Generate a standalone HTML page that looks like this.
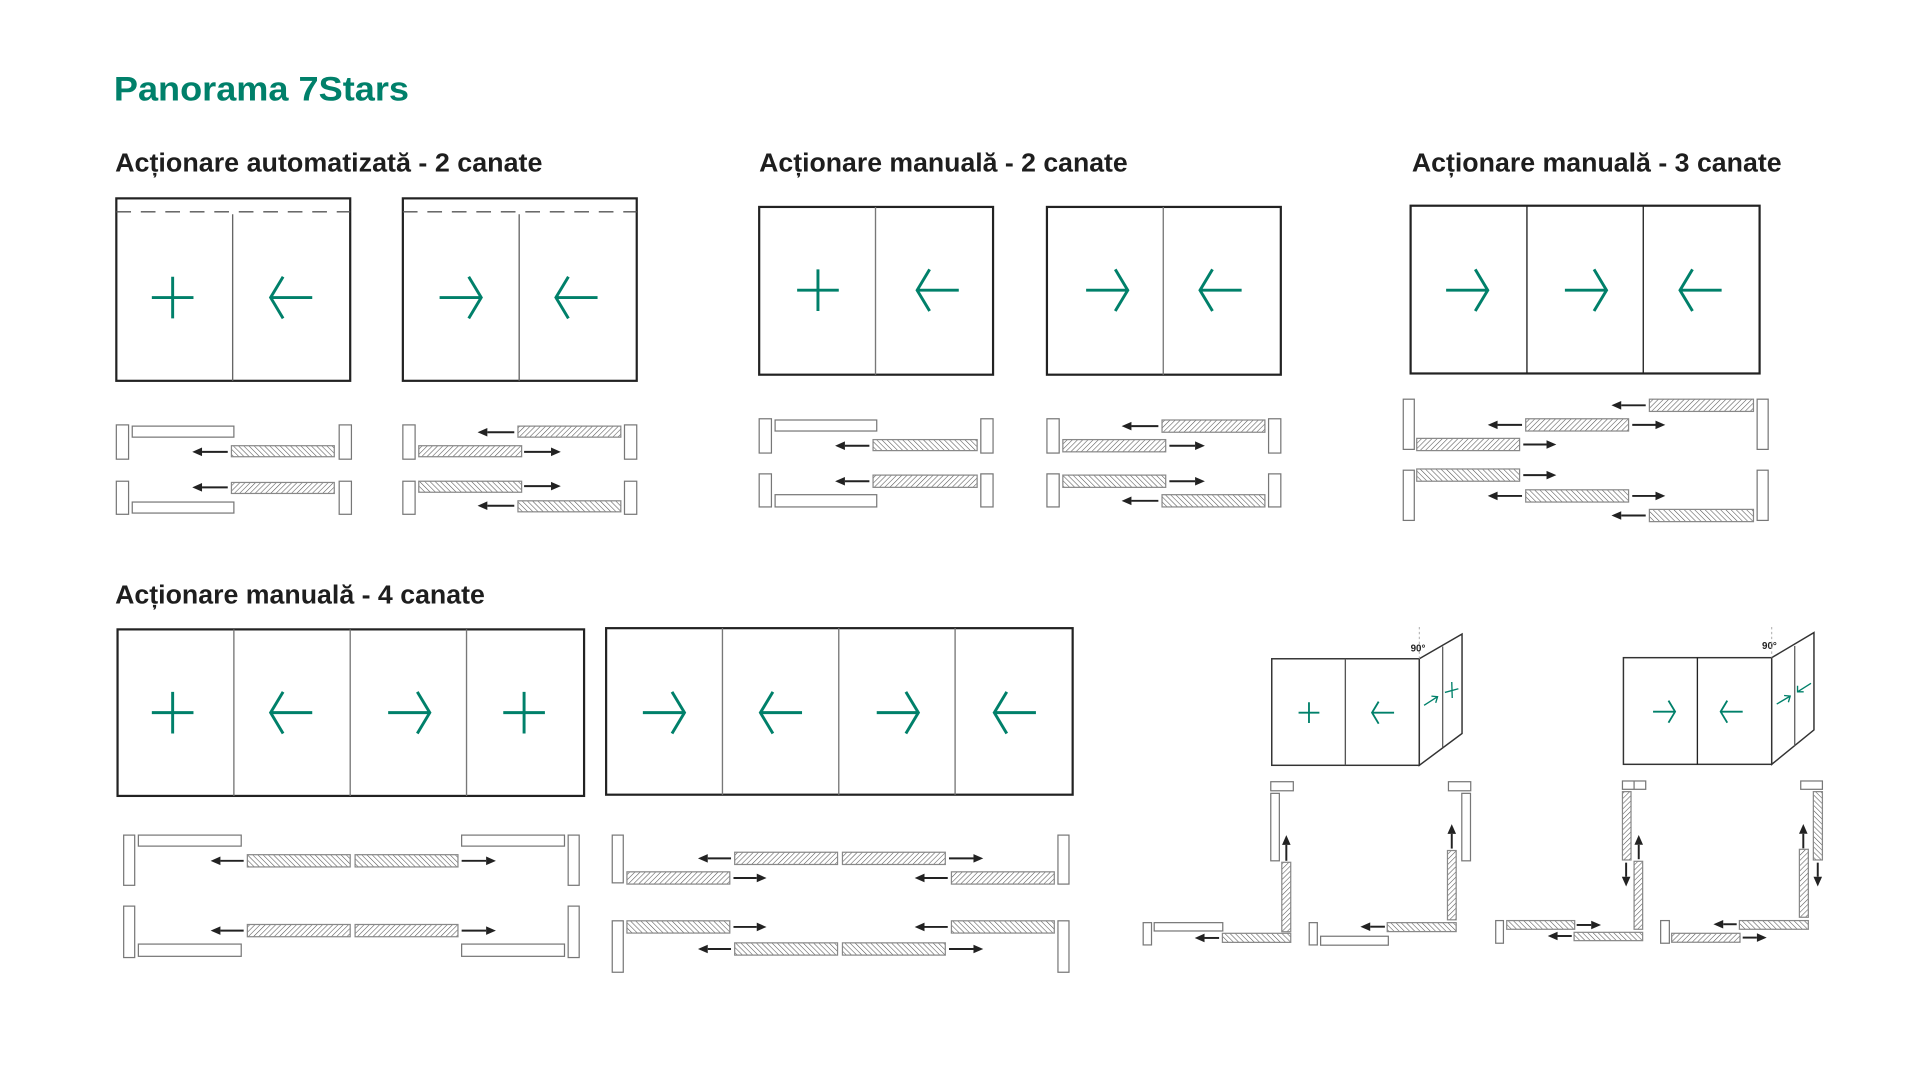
<!DOCTYPE html>
<html><head><meta charset="utf-8">
<style>html,body{margin:0;padding:0;background:#fff;}svg{display:block}</style>
</head><body>
<svg id="s" xmlns="http://www.w3.org/2000/svg" width="1920" height="1080" viewBox="0 0 1568 882">
<defs>
<pattern id="hf" width="3" height="3" patternUnits="userSpaceOnUse" patternTransform="rotate(45)"><rect width="3" height="3" fill="#fff"/><line x1="0" y1="0" x2="0" y2="3" stroke="#555" stroke-width="0.9"/></pattern>
<pattern id="hb" width="3" height="3" patternUnits="userSpaceOnUse" patternTransform="rotate(-45)"><rect width="3" height="3" fill="#fff"/><line x1="0" y1="0" x2="0" y2="3" stroke="#555" stroke-width="0.9"/></pattern>
</defs>
<rect width="1568" height="882" fill="#fff"/>
<g font-family="Liberation Sans, Arial, sans-serif" font-weight="bold">
<text x="93" y="82" font-size="28" fill="#00806a" textLength="241" lengthAdjust="spacingAndGlyphs">Panorama 7Stars</text>
<text x="94" y="140" font-size="21" fill="#1e1e1e" textLength="349" lengthAdjust="spacingAndGlyphs">Acționare automatizată - 2 canate</text>
<text x="620" y="140" font-size="21" fill="#1e1e1e" textLength="301" lengthAdjust="spacingAndGlyphs">Acționare manuală - 2 canate</text>
<text x="1153" y="140" font-size="21" fill="#1e1e1e" textLength="302" lengthAdjust="spacingAndGlyphs">Acționare manuală - 3 canate</text>
<text x="94" y="493" font-size="21" fill="#1e1e1e" textLength="302" lengthAdjust="spacingAndGlyphs">Acționare manuală - 4 canate</text>
<text x="1152" y="532" font-size="8" fill="#222">90°</text>
<text x="1439" y="530" font-size="8" fill="#222">90°</text>
</g>
<g id="g"></g>
</svg>
<script>
var G=document.getElementById('g'),NS='http://www.w3.org/2000/svg';
function el(t,a){var e=document.createElementNS(NS,t);for(var k in a)e.setAttribute(k,a[k]);G.appendChild(e);return e;}
function R(x1,y1,x2,y2,f,sw,c){el('rect',{x:x1,y:y1,width:x2-x1,height:y2-y1,fill:f||'#fff',stroke:c||'#777','stroke-width':sw||1});}
function L(x1,y1,x2,y2,c,w,d){var a={x1:x1,y1:y1,x2:x2,y2:y2,stroke:c||'#333','stroke-width':w||1};if(d)a['stroke-dasharray']=d;el('line',a);}
function H(x1,y1,x2,y2,p){R(x1,y1,x2,y2,'url(#'+(p||'hf')+')',1,'#888');}
function A(x1,y1,x2,y2){var dx=x2-x1,dy=y2-y1,l=Math.hypot(dx,dy),ux=dx/l,uy=dy/l,hl=8,hw=3.5;
 var bx=x2-ux*hl,by=y2-uy*hl;L(x1,y1,bx,by,'#222',1.6);
 el('polygon',{points:x2+','+y2+' '+(bx-uy*hw)+','+(by+ux*hw)+' '+(bx+uy*hw)+','+(by-ux*hw),fill:'#222'});}
var GR='#00806a';
function gp(p,w){el('path',{d:p,fill:'none',stroke:GR,'stroke-width':w||2.4,'stroke-linecap':'butt','stroke-linejoin':'miter'});}
function PL(x,y,s,w){s=s||17;gp('M'+(x-s)+' '+y+'H'+(x+s)+'M'+x+' '+(y-s)+'V'+(y+s),w);}
function AR(x,y,dir,s,w){s=s||17;var h=s*0.6;if(dir>0)gp('M'+(x-s)+' '+y+'H'+(x+s)+'M'+(x+s-h)+' '+(y-s)+'L'+(x+s)+' '+y+'L'+(x+s-h)+' '+(y+s),w);
 else gp('M'+(x+s)+' '+y+'H'+(x-s)+'M'+(x-s+h)+' '+(y-s)+'L'+(x-s)+' '+y+'L'+(x-s+h)+' '+(y+s),w);}
function box(x1,y1,x2,y2,divs,dc){R(x1,y1,x2,y2,'#fff',1.8,'#222');divs.forEach(function(d){L(d,y1,d,y2,dc||'#777',1.1);});}

[[95,286,190],[329,520,424]].forEach(function(b){R(b[0],162,b[1],311,'#fff',1.8,'#222');L(b[0],173,b[1],173,'#555',1.1,'12,8');L(b[2],175,b[2],311,'#666',1.1);});
PL(141,243);AR(238,243,-1);AR(376,243,1);AR(471,243,-1);
R(95,347,105,375);R(277,347,287,375);R(108,348,191,357);H(189,364,273,373,'hb');A(186,369,157,369);
R(95,393,105,420);R(277,393,287,420);H(189,394,273,403);A(186,398,157,398);R(108,410,191,419);
R(329,347,339,375);R(510,347,520,375);H(423,348,507,357);A(420,353,390,353);H(342,364,426,373);A(428,369,458,369);
R(329,393,339,420);R(510,393,520,420);H(342,393,426,402,'hb');A(428,397,458,397);H(423,409,507,418,'hb');A(420,413,390,413);

box(620,169,811,306,[715]);box(855,169,1046,306,[950]);
PL(668,237);AR(766,237,-1);AR(904,237,1);AR(997,237,-1);
R(620,342,630,370);R(801,342,811,370);R(633,343,716,352);H(713,359,798,368,'hb');A(710,364,682,364);
R(620,387,630,414);R(801,387,811,414);H(713,388,798,398);A(710,393,682,393);R(633,404,716,414);
R(855,342,865,370);R(1036,342,1046,370);H(949,343,1033,353);A(946,348,916,348);H(868,359,952,369);A(955,364,984,364);
R(855,387,865,414);R(1036,387,1046,414);H(868,388,952,398,'hb');A(955,393,984,393);H(949,404,1033,414,'hb');A(946,409,916,409);

box(1152,168,1437,305,[1247,1342],'#222');
AR(1198,237,1);AR(1295,237,1);AR(1389,237,-1);
R(1146,326,1155,367);R(1435,326,1444,367);
H(1347,326,1432,336);A(1344,331,1316,331);H(1246,342,1330,352);A(1243,347,1215,347);A(1333,347,1360,347);H(1157,358,1241,368);A(1244,363,1271,363);
R(1146,384,1155,425);R(1435,384,1444,425);
H(1157,383,1241,393,'hb');A(1244,388,1271,388);H(1246,400,1330,410,'hb');A(1243,405,1215,405);A(1333,405,1360,405);H(1347,416,1432,426,'hb');A(1344,421,1316,421);

box(96,514,477,650,[191,286,381]);box(495,513,876,649,[590,685,780]);
PL(141,582);AR(238,582,-1);AR(334,582,1);PL(428,582);
AR(542,582,1);AR(638,582,-1);AR(733,582,1);AR(829,582,-1);
R(101,682,110,723);R(464,682,473,723);R(113,682,197,691);R(377,682,461,691);
H(202,698,286,708,'hb');H(290,698,374,708,'hb');A(199,703,172,703);A(377,703,405,703);
R(101,740,110,782);R(464,740,473,782);H(202,755,286,765);H(290,755,374,765);A(199,760,172,760);A(377,760,405,760);
R(113,771,197,781);R(377,771,461,781);
R(500,682,509,721);R(864,682,873,722);
H(600,696,684,706);H(688,696,772,706);A(597,701,570,701);A(775,701,803,701);
H(512,712,596,722);A(599,717,626,717);H(777,712,861,722);A(774,717,747,717);
R(500,752,509,794);R(864,752,873,794);
H(512,752,596,762,'hb');A(599,757,626,757);H(777,752,861,762,'hb');A(774,757,747,757);
H(600,770,684,780,'hb');H(688,770,772,780,'hb');A(597,775,570,775);A(775,775,803,775);

R(1038.6,538,1159.1,625,'#fff',1.2,'#333');L(1098.7,538,1098.7,625,'#555',1.1);
el('polygon',{points:'1159.1,538 1194,517.8 1194,599 1159.1,625',fill:'#fff',stroke:'#333','stroke-width':1.2});
L(1178.2,528,1178.2,610.6,'#555',1);L(1159.1,512,1159.1,538,'#aaa',0.8,'2,2');
PL(1069,582,8.5,1.5);AR(1129.5,582,-1,9,1.5);
gp('M1163 576 L1174 569 M1169 568.5 L1174 569 L1172.5 574',1.1);
gp('M1180 565.5 L1191 562.5 M1185.6 557 L1186 570',1.1);
R(1037.8,638.4,1056.2,645.8);R(1037.8,647.9,1044.8,703);H(1046.8,704.2,1054.1,760.9);A(1050.5,703,1050.5,682);
H(998.3,762.2,1054.1,769.6,'hb');A(995.6,766,975.7,766);R(942.6,753.5,998.6,760.3);R(933.6,753.5,940.4,771.7);
R(1182.9,638.4,1201.1,645.8);R(1193.8,647.9,1200.9,703);H(1182.1,694.6,1189.2,751.2);A(1185.6,693,1185.6,673);
H(1132.9,753.5,1189.2,760.8,'hb');A(1131,756.8,1111,756.8);R(1069.2,753.5,1075.8,771.7);R(1078.5,764.6,1133.8,771.9);

R(1325.8,537.1,1446.9,624.2,'#fff',1.2,'#333');L(1386.2,537.1,1386.2,624.2,'#222',1.1);
el('polygon',{points:'1446.9,537.1 1481.4,516.6 1481.4,596.1 1446.9,624.2',fill:'#fff',stroke:'#333','stroke-width':1.2});
L(1465.7,527.5,1465.7,609.2,'#555',1);L(1446.9,512,1446.9,537,'#aaa',0.8,'2,2');
AR(1359,581.2,1,9,1.5);AR(1414.2,581.2,-1,9,1.5);
gp('M1451 575 L1462 568.5 M1457 568 L1462 568.5 L1460.5 573.5',1.1);
gp('M1479 558 L1468 565 M1468 560 L1468 565 L1473 565',1.1);
R(1325,637.8,1344,644.6);L(1334.5,637.8,1334.5,644.6,'#777',1);
H(1325,646.5,1332,702.3);A(1328,704.5,1328,724);H(1334.5,703.4,1341.5,758.9);A(1338.3,701.7,1338.3,681.9);
H(1230.5,751.8,1286,758.9,'hb');A(1287.6,755.4,1307.5,755.4);H(1285.5,761.4,1341.5,768.2,'hb');A(1283.6,764.4,1264,764.4);R(1221.5,751.8,1227.8,770.3);
R(1470.6,637.8,1488.3,644.6);H(1480.9,646.5,1488.3,702.3,'hb');A(1484.5,704.5,1484.5,724);H(1469.5,693.6,1476.8,749.1);A(1472.7,692.8,1472.7,672.9);
H(1420.5,751.8,1476.8,758.9,'hb');A(1418.3,754.8,1399.3,754.8);H(1365.2,762.2,1421,769.5);A(1423.2,765.7,1442.8,765.7);R(1356.2,751.8,1363.3,770.3);
</script>
</body></html>
